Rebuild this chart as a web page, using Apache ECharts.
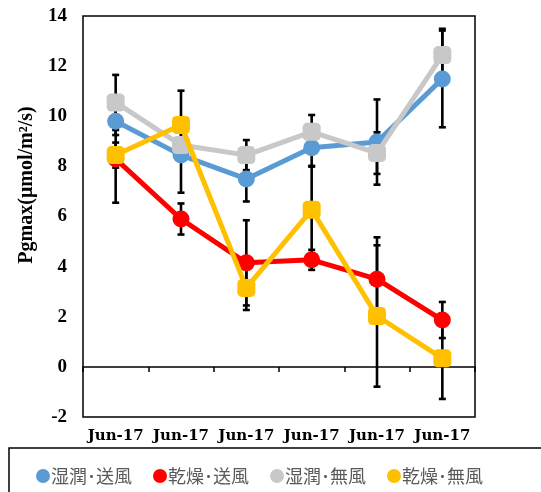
<!DOCTYPE html>
<html><head><meta charset="utf-8">
<script src="https://cdn.jsdelivr.net/npm/echarts@6/dist/echarts.min.js"></script>
<style>html,body{margin:0;padding:0;background:#fff}#c{width:541px;height:492px}</style>
</head><body><div id="c"></div>
<script>
var categories = ['Jun-17','Jun-17','Jun-17','Jun-17','Jun-17','Jun-17'];
var seriesNames = ['湿潤･送風','乾燥･送風','湿潤･無風','乾燥･無風'];
var wetFan = [9.8, 8.45, 7.5, 8.74, 8.97, 11.49];
var dryFan = [8.3, 5.9, 4.15, 4.27, 3.5, 1.87];
var wetNoFan = [10.55, 8.85, 8.45, 9.38, 8.53, 12.44];
var dryNoFan = [8.45, 9.65, 3.15, 6.27, 2.03, 0.34];
var wetFanErr = [0.55, 1.5, 0.9, 0.75, 1.7, 1.93];
var dryFanErr = [1.75, 0.62, 1.7, 0.4, 1.67, 0.72];
var wetNoFanErr = [1.1, 0.3, 0.6, 0.67, 0.83, 1.05];
var dryNoFanErr = [0.5, 1.37, 0.88, 1.75, 2.82, 1.62];
var yTicks = {min: -2, max: 14, interval: 2};

var colors = ['#5B9BD5', '#FF0000', '#C8C8C8', '#FFC000'];
var values = [wetFan, dryFan, wetNoFan, dryNoFan];
var errs = [wetFanErr, dryFanErr, wetNoFanErr, dryNoFanErr];
var symbols = ['circle', 'circle', 'roundRect', 'roundRect'];

function errRender(params, api) {
  var top = api.coord([api.value(0), api.value(2)]);
  var bot = api.coord([api.value(0), api.value(1)]);
  var hw = 3.5;
  var st = {stroke: '#000', lineWidth: 2.6};
  return {type: 'group', children: [
    {type: 'line', shape: {x1: top[0], y1: top[1], x2: bot[0], y2: bot[1]}, style: st},
    {type: 'line', shape: {x1: top[0]-hw, y1: top[1], x2: top[0]+hw, y2: top[1]}, style: st},
    {type: 'line', shape: {x1: bot[0]-hw, y1: bot[1], x2: bot[0]+hw, y2: bot[1]}, style: st}
  ]};
}

var series = [];
values.forEach(function (v, s) {
  series.push({
    type: 'custom', xAxisIndex: 0, yAxisIndex: 0, z: 1, silent: true,
    renderItem: errRender, encode: {x: 0, y: [1, 2]},
    data: v.map(function (y, i) { return [i, y - errs[s][i], y + errs[s][i]]; })
  });
});
values.forEach(function (v, s) {
  series.push({
    name: seriesNames[s], type: 'line', xAxisIndex: 0, yAxisIndex: 0, z: 2 + s,
    data: v, symbol: symbols[s], symbolSize: symbols[s] === 'circle' ? 17 : 18,
    showSymbol: true, animation: false,
    itemStyle: {color: colors[s], opacity: 1},
    lineStyle: {color: colors[s], width: 5}
  });
});

var chart = echarts.init(document.getElementById('c'));
chart.setOption({
  animation: false,
  grid: {left: 83, top: 16, right: 66, bottom: 75, show: true, borderColor: '#000', borderWidth: 1.5, backgroundColor: 'transparent'},
  xAxis: [
    {type: 'category', data: categories, boundaryGap: true,
     axisLine: {onZero: true, lineStyle: {color: '#000', width: 1.5}},
     axisTick: {show: true, length: 5, lineStyle: {color: '#000', width: 1.5}},
     axisLabel: {show: false}, splitLine: {show: false}},
    {type: 'category', data: categories, position: 'bottom', boundaryGap: true,
     axisLine: {show: false, onZero: false}, axisTick: {show: false},
     axisLabel: {show: true, interval: 0, margin: 12, color: '#000', fontFamily: 'DejaVu Serif', fontWeight: 'bold', fontSize: 15},
     splitLine: {show: false}}
  ],
  yAxis: {type: 'value', min: yTicks.min, max: yTicks.max, interval: yTicks.interval,
    axisLine: {show: false}, axisTick: {show: false}, splitLine: {show: false},
    axisLabel: {margin: 16, color: '#000', fontFamily: 'Liberation Serif', fontWeight: 'bold', fontSize: 19}},
  legend: {data: seriesNames, left: 31, top: 462, icon: 'circle', itemWidth: 14, itemHeight: 14, itemGap: 21,
    textStyle: {fontFamily: 'Noto Sans CJK JP', fontSize: 18, color: '#595959', padding: [0, 0, 0, -4]}},
  graphic: [
    {type: 'rect', shape: {x: 9, y: 448, width: 560, height: 80}, style: {fill: 'none', stroke: '#000', lineWidth: 1.5}, silent: true},
    {type: 'text', x: 27, y: 185, rotation: Math.PI / 2,
     style: {text: 'Pgmax(μmol/m²/s)', font: 'bold 20px "Liberation Serif"', fill: '#000', align: 'center', verticalAlign: 'middle'}}
  ],
  series: series
});
</script></body></html>
